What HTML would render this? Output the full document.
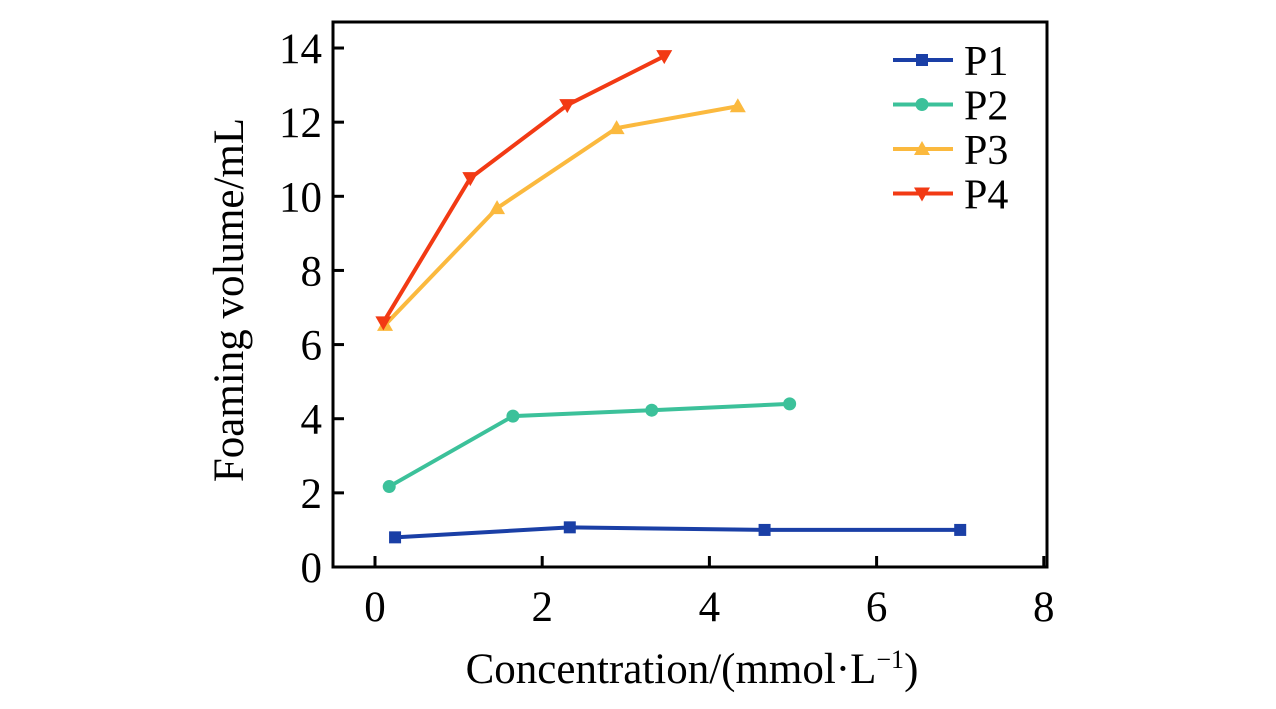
<!DOCTYPE html>
<html><head><meta charset="utf-8"><style>
html,body{margin:0;padding:0;background:#fff;}
svg{display:block;font-family:"Liberation Serif",serif;}
</style></head><body>
<svg id="chart" width="1276" height="709" viewBox="0 0 1276 709"></svg>
<script>
const seriesNames=["P1","P2","P3","P4"];
const p1x=[0.24,2.33,4.66,7.0], p1y=[0.8,1.07,1.0,1.0];
const p2x=[0.17,1.65,3.31,4.96], p2y=[2.17,4.07,4.23,4.4];
const p3x=[0.12,1.46,2.89,4.34], p3y=[6.53,9.68,11.84,12.43];
const p4x=[0.1,1.14,2.3,3.46], p4y=[6.6,10.49,12.46,13.78];
const xTicks=[0,2,4,6,8];
const yTicks=[0,2,4,6,8,10,12,14];
const colors=["#1a3fa6","#3cc19a","#fbb93e","#f23a14"];
const markers=["square","circle","triangle","tri-down"];
const NS="http://www.w3.org/2000/svg";
const svg=document.getElementById('chart');
const L=333,R=1047,T=22,B=567;
const X=v=>375+v*83.6;
const Y=v=>567-v*37.07;
function el(tag,attrs,parent){const e=document.createElementNS(NS,tag);for(const k in attrs)e.setAttribute(k,attrs[k]);(parent||svg).appendChild(e);return e;}
xTicks.forEach(t=>{
  const ln=el('line',{x1:X(t),x2:X(t),y1:B,y2:B-11,stroke:'#000','stroke-width':3});
  
  
  const tx=el('text',{x:X(t),y:621,'font-size':43,'text-anchor':'middle'});tx.textContent=t;
  
  
});
yTicks.forEach(t=>{
  const ln=el('line',{x1:L,x2:L+11,y1:Y(t),y2:Y(t),stroke:'#000','stroke-width':3});
  
  
  const tx=el('text',{x:322,y:Y(t)+15,'font-size':43,'text-anchor':'end'});tx.textContent=t;
  
  
});
const frame=el('rect',{x:L,y:T,width:R-L,height:B-T,fill:'none',stroke:'#000','stroke-width':3});


function marker(type,cx,cy,color,g){
  if(type==='square')return el('rect',{x:cx-6,y:cy-6,width:12,height:12,fill:color},g);
  if(type==='circle')return el('circle',{cx:cx,cy:cy,r:6.5,fill:color},g);
  if(type==='triangle')return el('polygon',{points:`${cx},${cy-8} ${cx-8},${cy+6} ${cx+8},${cy+6}`,fill:color},g);
  return el('polygon',{points:`${cx},${cy+8} ${cx-8},${cy-6} ${cx+8},${cy-6}`,fill:color},g);
}
const allX=[p1x,p2x,p3x,p4x], allY=[p1y,p2y,p3y,p4y];
allX.forEach((xs,i)=>{
  const g=el('g',{});
  
  
  const pts=xs.map((x,j)=>X(x)+','+Y(allY[i][j])).join(' ');
  el('polyline',{points:pts,fill:'none',stroke:colors[i],'stroke-width':4},g);
  xs.forEach((x,j)=>{
    const m=marker(markers[i],X(x),Y(allY[i][j]),colors[i],g);
    
    
  });
  const lg=el('g',{},svg);
  
  
  const ly=60+i*44.5;
  el('line',{x1:893,x2:953,y1:ly,y2:ly,stroke:colors[i],'stroke-width':4},lg);
  marker(markers[i],922,ly,colors[i],lg);
  const t=el('text',{x:964,y:ly+15,'font-size':42},lg);t.textContent=seriesNames[i];
});
const xt=el('text',{x:692,y:683,'font-size':43,'text-anchor':'middle'});
xt.innerHTML='Concentration/(mmol·L<tspan dy="-15" font-size="26">−1</tspan><tspan dy="15">)</tspan>';


const yt=el('text',{x:0,y:0,'font-size':43,'text-anchor':'middle',transform:'translate(243,300) rotate(-90)'});
yt.textContent='Foaming volume/mL';


</script>
</body></html>
